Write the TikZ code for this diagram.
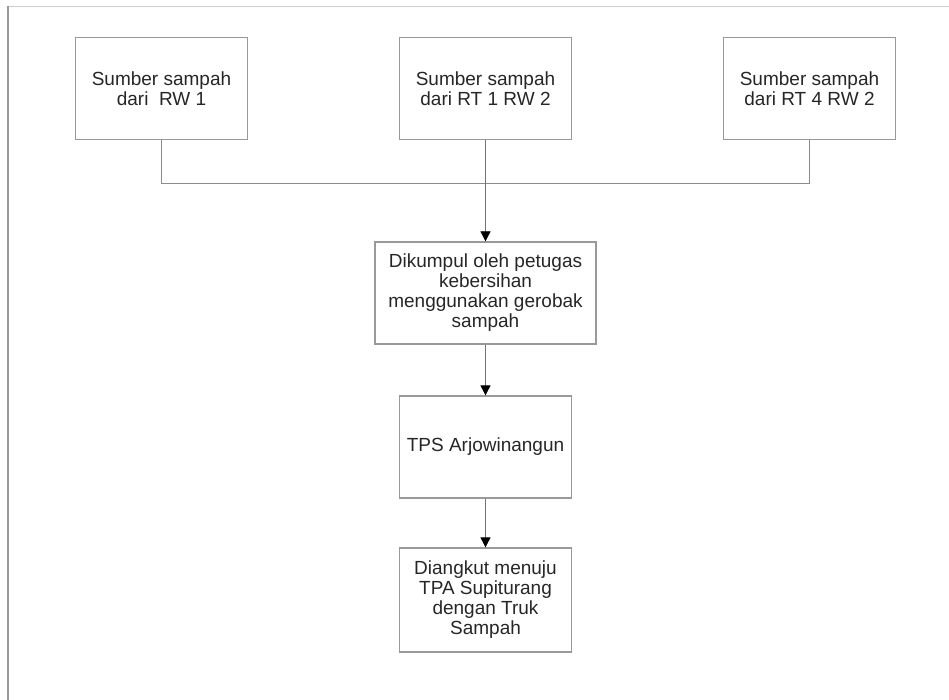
\documentclass[tikz,border=0pt]{standalone}
\usepackage{fontspec}
\setmainfont{Liberation Sans}
\usetikzlibrary{arrows.meta,positioning}
\usepackage{xcolor}

\begin{document}
\begin{tikzpicture}[x=1pt,y=1pt]
                \tikzstyle{box} = [shape=rectangle, draw=black!40, line width=1.3pt, inner sep=0pt, minimum width=172pt, minimum height=102pt, align=center, text=black!85, font=\fontsize{19}{20}\selectfont];

                \useasboundingbox (0,0) rectangle (949,-700);
                \draw[black!20, line width=1.2pt] (8,-6.5) -- (949,-6.5);
                \draw[black!40, line width=1.6pt] (8,-700) -- (8,-6.5);

                \node[box](R1) at (161.5,-88.5) {Sumber sampah\\dari\ \ RW 1};
                \node[box](R2) at (485.5,-88.5) {Sumber sampah\\dari RT 1 RW 2};
                \node[box](R3) at (809.5,-88.5) {Sumber sampah\\dari RT 4 RW 2};

                \node[box, minimum width=221pt](K) at (485.5,-293) {Dikumpul oleh petugas\\kebersihan\\menggunakan gerobak\\sampah};
                \node[box](T) at (485.5,-447) {TPS Arjowinangun};
                \node[box, minimum height=104pt](A) at (485.5,-600) {Diangkut menuju\\TPA Supiturang\\dengan Truk\\Sampah};

                \coordinate (bus) at (485.5,-184);

                \draw[black!45, line width=1pt]
                    (R1.south) -- (R1.south |- bus) -- (R3.south |- bus) -- (R3.south);

                \draw[-{Triangle[length=10pt,width=10pt,color=black,fill=black]}, black!55, line width=0.8pt]
                    (R2) edge (K)
                    (K) edge (T)
                    (T) edge (A)
                ;
            \end{tikzpicture}
\end{document}
